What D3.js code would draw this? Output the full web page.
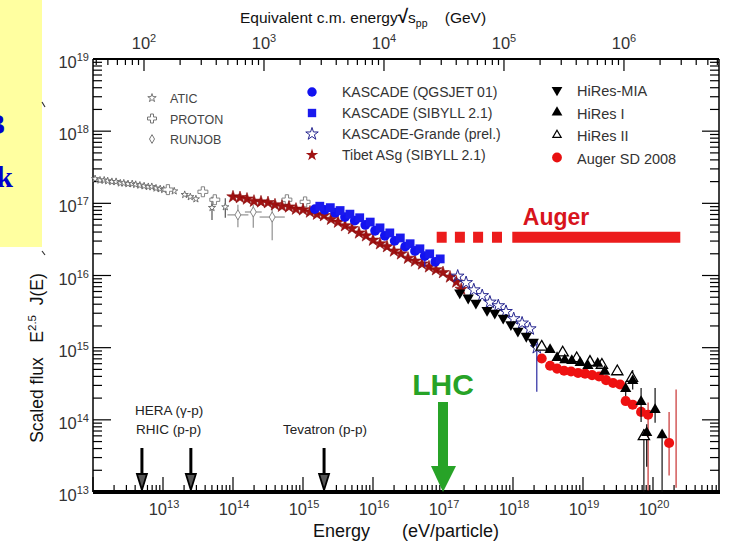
<!DOCTYPE html>
<html>
<head>
<meta charset="utf-8">
<script src="https://cdn.jsdelivr.net/npm/d3@7"></script>
<style>
body { margin: 0; background: #fff; }
text { font-family: Arial, "Liberation Sans", sans-serif; }
</style>
</head>
<body>
<script>
// values are log10 of energy (eV) and log10 of scaled flux E^2.5 J(E)
// optional 3rd/4th entries: error down / error up (log units)
var atic = [[12.03,17.34],[12.10,17.32],[12.16,17.32],[12.21,17.31],[12.27,17.30],[12.33,17.30],
  [12.39,17.28],[12.44,17.28],[12.50,17.27],[12.56,17.27],[12.61,17.26],[12.67,17.25],[12.73,17.24],
  [12.79,17.23],[12.84,17.23],[12.90,17.21],[12.96,17.20],[13.01,17.19],[13.16,17.17],[13.31,17.12],
  [13.39,17.09],[13.47,17.06],[13.70,16.94,0.17,0.15],[13.89,16.95,0.15,0.12]];
var proton = [[13.07,17.19],[13.57,17.16],[13.74,17.05],[14.77,17.05],[15.03,17.02]];
// 5th entry: horizontal error (log units)
var runjob = [[14.07,16.84,0.17,0.14,0.15],[14.29,16.88,0.22,0.10,0.12],[14.56,16.81,0.32,0.21,0.18]];

var tibetE = [14.0,14.1,14.2,14.3,14.4,14.5,14.6,14.7,14.8,14.9,15.0,15.1,15.2,15.3,15.4,15.5,15.6,
  15.7,15.8,15.9,16.0,16.1,16.2,16.3,16.4,16.5,16.6,16.7,16.8,16.9,17.0,17.1,17.19,17.26];
var tibetF = [17.09,17.08,17.06,17.03,17.02,17.01,16.98,16.96,16.95,16.92,16.91,16.88,16.85,16.83,
  16.78,16.74,16.69,16.65,16.59,16.55,16.49,16.44,16.40,16.34,16.30,16.24,16.20,16.16,16.12,16.08,
  16.04,15.98,15.91,15.81];

var kascadeQ = [[15.17,16.92],[15.31,16.91],[15.46,16.87],[15.60,16.81],[15.74,16.76],[15.89,16.70],
  [16.03,16.62],[16.17,16.55],[16.31,16.48],[16.46,16.40],[16.60,16.34],[16.74,16.27,0.15,0],[16.89,16.19]];
var kascadeS = [[15.24,16.96],[15.39,16.94],[15.53,16.90],[15.67,16.85],[15.81,16.80],[15.96,16.74],
  [16.10,16.66],[16.24,16.59],[16.39,16.52],[16.53,16.44],[16.67,16.37],[16.81,16.30],[16.96,16.23]];
var grande = [[17.21,15.99],[17.33,15.90],[17.44,15.80],[17.56,15.72],[17.67,15.63],[17.79,15.58],
  [17.90,15.50],[18.01,15.40],[18.13,15.34],[18.24,15.26],[18.34,15.00,0.61,0.05]];

var hiresMIA = [[17.24,15.76],[17.36,15.69],[17.47,15.62],[17.63,15.52],[17.74,15.48],[17.86,15.41],
  [17.97,15.32],[18.07,15.23],[18.19,15.16],[18.29,15.08]];
var hires1 = [[18.53,14.97],[18.63,14.86],[18.74,14.83],[18.84,14.82],[18.96,14.79],[19.07,14.75],
  [19.21,14.78],[19.31,14.67],[19.61,14.43,0.10,0.10],[19.71,14.54,0.12,0.15],[19.83,14.25,0.28,0.19],
  [20.03,14.14,0.18,0.30],[19.91,13.82,0.47,0.12],[20.13,13.79,0.80,0.04]];
var hires2 = [[18.41,15.01],[18.71,14.93],[18.91,14.85],[19.10,14.80],[19.27,14.76],[19.49,14.67],
  [19.70,14.58],[19.87,13.77,0.80,0.10]];
var auger = [[18.41,14.85],[18.53,14.75],[18.63,14.71],[18.73,14.68],[18.83,14.67],[18.93,14.65],
  [19.03,14.64],[19.13,14.62],[19.23,14.60],[19.33,14.55],[19.43,14.51],[19.53,14.49],[19.61,14.26],
  [19.71,14.21],[19.83,14.11],[19.93,14.07,1.05,0.17],[20.23,13.68,0.45,0.43]];
var augerLimit = [[20.33,13.06,14.42]];

// annotations
var augerDashStart = [16.91, 17.17, 17.43, 17.70];
var augerSolid = [17.99, 20.39];
var augerBarF = 16.53;
var lhcE = 1e17;
var colliderE = [5e12, 2.5e13, 2e15];

var W = 730, H = 541;
var svg = d3.select('body').append('svg').attr('width', W).attr('height', H);

var L = 93, R = 719, T = 59, B = 492;
var x = d3.scaleLog().domain([1e12, Math.pow(10, 20.943)]).range([L, R]);
var y = d3.scaleLog().domain([1e13, 1e19]).range([B, T]).clamp(true);
var xTop = d3.scaleLog().domain([Math.pow(10, 1.575), Math.pow(10, 6.792)]).range([L, R]);

var px = function(d) { return x(Math.pow(10, d[0])); };
var py = function(d) { return y(Math.pow(10, d[1])); };

// yellow box on the left (cut off slide text)
svg.append('rect').attr('x', 0).attr('y', 0).attr('width', 42).attr('height', 247).attr('fill', '#ffffa0');
svg.append('text').attr('x', 5).attr('y', 134).attr('text-anchor', 'end')
  .style('font-family', '"Liberation Serif", serif').attr('font-weight', 'bold').attr('font-size', 30)
  .attr('fill', '#0000cc').text('3');
svg.append('text').attr('x', 13).attr('y', 187).attr('text-anchor', 'end')
  .style('font-family', '"Liberation Serif", serif').attr('font-weight', 'bold').attr('font-size', 30)
  .attr('fill', '#0000cc').text('k');
svg.append('path').attr('d', 'M42,102L45,107M42,251L45,255').attr('stroke', '#333').attr('stroke-width', 1.2);

// frame
svg.append('line').attr('x1', L).attr('x2', L).attr('y1', T).attr('y2', B).attr('stroke', '#000').attr('stroke-width', 1.5);
svg.append('line').attr('x1', R).attr('x2', R).attr('y1', T).attr('y2', B).attr('stroke', '#000').attr('stroke-width', 1.5);
svg.append('line').attr('x1', L).attr('x2', R).attr('y1', T).attr('y2', T).attr('stroke', '#000').attr('stroke-width', 2);

var isMajor = function(t) { var l = Math.log10(t); return Math.abs(l - Math.round(l)) < 1e-6; };
var supLabel = function(sel, e) {
  sel.text('10');
  sel.append('tspan').attr('dy', -7).attr('font-size', 11).text(e);
};

// left and right ticks
var yt = y.ticks();
svg.append('g').selectAll('line').data(yt).enter().append('line')
  .attr('x1', L).attr('x2', function(t) { return L + (isMajor(t) ? 18 : 9); })
  .attr('y1', function(t) { return y(t); }).attr('y2', function(t) { return y(t); })
  .attr('stroke', '#000').attr('stroke-width', 1.2);
svg.append('g').selectAll('line').data(yt).enter().append('line')
  .attr('x1', R).attr('x2', function(t) { return R - (isMajor(t) ? 17 : 9); })
  .attr('y1', function(t) { return y(t); }).attr('y2', function(t) { return y(t); })
  .attr('stroke', '#000').attr('stroke-width', 1.2);
svg.append('g').selectAll('text').data(yt.filter(isMajor)).enter().append('text')
  .attr('x', 89).attr('y', function(t) { return y(t) + 9; })
  .attr('text-anchor', 'end').attr('font-size', 16.5).attr('fill', '#333')
  .each(function(t) { supLabel(d3.select(this), Math.round(Math.log10(t))); });

// bottom axis
var xt = x.ticks();
svg.append('g').selectAll('line').data(xt).enter().append('line')
  .attr('x1', function(t) { return x(t); }).attr('x2', function(t) { return x(t); })
  .attr('y1', B).attr('y2', function(t) { return B - (isMajor(t) ? 15 : 7); })
  .attr('stroke', '#000').attr('stroke-width', 1.2);
svg.append('line').attr('x1', L).attr('x2', R + 1).attr('y1', B).attr('y2', B).attr('stroke', '#000').attr('stroke-width', 4);
svg.append('g').selectAll('text').data(xt.filter(function(t) { return isMajor(t) && t > 1e12; })).enter().append('text')
  .attr('x', function(t) { return x(t) + 1; }).attr('y', 515)
  .attr('text-anchor', 'middle').attr('font-size', 16.5).attr('fill', '#333')
  .each(function(t) { supLabel(d3.select(this), Math.round(Math.log10(t))); });

// top axis (sqrt(s) in GeV)
var tt = xTop.ticks();
svg.append('g').selectAll('line').data(tt).enter().append('line')
  .attr('x1', function(t) { return xTop(t); }).attr('x2', function(t) { return xTop(t); })
  .attr('y1', T).attr('y2', function(t) { return T + (isMajor(t) ? 12 : 6); })
  .attr('stroke', '#000').attr('stroke-width', 1.2);
svg.append('g').selectAll('text').data(tt.filter(isMajor)).enter().append('text')
  .attr('x', function(t) { return xTop(t); }).attr('y', 49)
  .attr('text-anchor', 'middle').attr('font-size', 16.5).attr('fill', '#333')
  .each(function(t) { supLabel(d3.select(this), Math.round(Math.log10(t))); });

// axis titles
var ttl = svg.append('text').attr('x', 240).attr('y', 23).attr('font-size', 15.5).attr('fill', '#111');
ttl.append('tspan').text('Equivalent c.m. energy');
ttl.append('tspan').attr('font-weight', 'bold').attr('font-size', 19).text('\u221A');
ttl.append('tspan').text('s');
ttl.append('tspan').attr('dy', 4).attr('font-size', 10.5).text('pp');
ttl.append('tspan').attr('dy', -4).text('\u00a0\u00a0\u00a0\u00a0(GeV)');

var bl = svg.append('g').attr('font-size', 18).attr('fill', '#111');
bl.append('text').attr('x', 313).attr('y', 537).text('Energy');
bl.append('text').attr('x', 402).attr('y', 537).text('(eV/particle)');

var yl = svg.append('text').attr('transform', 'translate(43,358) rotate(-90)')
  .attr('text-anchor', 'middle').attr('font-size', 17.5).attr('fill', '#111');
yl.append('tspan').text('Scaled flux\u00a0\u00a0\u00a0E');
yl.append('tspan').attr('dy', -7).attr('font-size', 11.5).text('2.5');
yl.append('tspan').attr('dy', 7).text('\u00a0\u00a0J(E)');

// Auger range annotation
var augerRed = '#ec1c1c';
svg.append('g').selectAll('rect').data(augerDashStart).enter().append('rect')
  .attr('x', function(d) { return x(Math.pow(10, d)); }).attr('y', y(Math.pow(10, augerBarF)) - 5.5)
  .attr('width', 10).attr('height', 11).attr('fill', augerRed);
svg.append('rect').attr('x', x(Math.pow(10, augerSolid[0]))).attr('y', y(Math.pow(10, augerBarF)) - 5.5)
  .attr('width', x(Math.pow(10, augerSolid[1])) - x(Math.pow(10, augerSolid[0]))).attr('height', 11).attr('fill', augerRed);
svg.append('text').attr('x', 556).attr('y', 225).attr('text-anchor', 'middle')
  .attr('font-size', 23).attr('font-weight', 'bold').attr('fill', '#d8141c').text('Auger');

// error bars
var errBars = function(pts, color) {
  var g = svg.append('g').attr('stroke', color).attr('stroke-width', 1.2);
  g.selectAll('line').data(pts.filter(function(d) { return d.length > 2; })).enter().append('line')
    .attr('x1', px).attr('x2', px)
    .attr('y1', function(d) { return y(Math.pow(10, d[1] - d[2])); })
    .attr('y2', function(d) { return y(Math.pow(10, d[1] + d[3])); });
};

var drawPts = function(pts, type, size, fill, stroke, sw, rot) {
  svg.append('g').selectAll('path').data(pts).enter().append('path')
    .attr('d', d3.symbol().type(type).size(size))
    .attr('transform', function(d) { return 'translate(' + px(d) + ',' + py(d) + ')' + (rot ? ' rotate(' + rot + ')' : ''); })
    .attr('fill', fill).attr('stroke', stroke).attr('stroke-width', sw);
};

// grey low energy direct measurements
errBars(atic, '#555');
drawPts(atic, d3.symbolStar, 16, '#fff', '#666', 0.9);
drawPts(proton, d3.symbolCross, 55, '#fff', '#777', 0.9);
var rj = svg.append('g').attr('stroke', '#999').attr('stroke-width', 1.3);
rj.selectAll('.v').data(runjob).enter().append('line')
  .attr('x1', px).attr('x2', px)
  .attr('y1', function(d) { return y(Math.pow(10, d[1] - d[2])); })
  .attr('y2', function(d) { return y(Math.pow(10, d[1] + d[3])); });
rj.selectAll('.h').data(runjob).enter().append('line')
  .attr('y1', py).attr('y2', py)
  .attr('x1', function(d) { return x(Math.pow(10, d[0] - d[4])); })
  .attr('x2', function(d) { return x(Math.pow(10, d[0] + d[4])); });
drawPts(runjob, d3.symbolDiamond, 30, '#fff', '#888', 1);

// Tibet and KASCADE
var tibet = tibetE.map(function(e, i) { return [e, tibetF[i]]; });
drawPts(tibet, d3.symbolStar, 48, '#a01212', '#8a0a0a', 0.6);
errBars(kascadeQ, '#2020d0');
drawPts(kascadeQ, d3.symbolCircle, 75, '#1212f0', 'none', 0);
drawPts(kascadeS, d3.symbolSquare, 78, '#1a1aee', 'none', 0);

// Auger SD and HiRes
errBars(auger, '#c83030');
svg.append('g').attr('stroke', '#c83030').attr('stroke-width', 1.2).selectAll('line').data(augerLimit).enter().append('line')
  .attr('x1', function(d) { return x(Math.pow(10, d[0])); }).attr('x2', function(d) { return x(Math.pow(10, d[0])); })
  .attr('y1', function(d) { return y(Math.pow(10, d[1])); }).attr('y2', function(d) { return y(Math.pow(10, d[2])); });
drawPts(auger, d3.symbolCircle, 80, '#ee1111', 'none', 0);
errBars(grande, '#2a2aa0');
drawPts(grande, d3.symbolStar, 50, 'none', '#25258f', 1);
drawPts(hiresMIA, d3.symbolTriangle, 55, '#000', 'none', 0, 180);
errBars(hires1, '#111');
errBars(hires2, '#111');
drawPts(hires2, d3.symbolTriangle, 55, '#fff', '#000', 1.3);
drawPts(hires1, d3.symbolTriangle, 55, '#000', 'none', 0);

// collider arrows
var arrow = svg.append('g');
arrow.selectAll('line').data(colliderE).enter().append('line')
  .attr('x1', function(d) { return x(d); }).attr('x2', function(d) { return x(d); })
  .attr('y1', 448).attr('y2', 476).attr('stroke', '#000').attr('stroke-width', 3);
arrow.selectAll('path').data(colliderE).enter().append('path')
  .attr('d', function(d) { var c = x(d); return 'M' + (c - 5) + ',474L' + (c + 5) + ',474L' + c + ',490Z'; })
  .attr('fill', '#555').attr('stroke', '#000').attr('stroke-width', 1.8);
var cl = svg.append('g').attr('font-size', 13.5).attr('fill', '#222');
cl.append('text').attr('x', 135).attr('y', 415).text('HERA (\u03B3-p)');
cl.append('text').attr('x', 136).attr('y', 434).text('RHIC (p-p)');
cl.append('text').attr('x', 325).attr('y', 434).attr('text-anchor', 'middle').text('Tevatron (p-p)');

// LHC arrow
var lx = x(lhcE), green = '#27a327';
svg.append('rect').attr('x', lx - 5).attr('y', 402).attr('width', 10).attr('height', 70).attr('fill', green);
svg.append('path').attr('d', 'M' + (lx - 12) + ',466L' + (lx + 13) + ',466L' + lx + ',492Z').attr('fill', green);
svg.append('text').attr('x', lx).attr('y', 395).attr('text-anchor', 'middle')
  .attr('font-size', 30).attr('font-weight', 'bold').attr('fill', green).text('LHC');

// legends
var leg1 = ['ATIC', 'PROTON', 'RUNJOB'];
var leg1Sym = [d3.symbolStar, d3.symbolCross, d3.symbolDiamond];
var g1 = svg.append('g');
leg1.forEach(function(name, i) {
  var yy = 98 + i * 20.5;
  g1.append('path').attr('d', d3.symbol().type(leg1Sym[i]).size(i == 1 ? 45 : 22)())
    .attr('transform', 'translate(152,' + yy + ')').attr('fill', '#fff').attr('stroke', '#777').attr('stroke-width', 1);
  g1.append('text').attr('x', 170).attr('y', yy + 5).attr('font-size', 12.5).attr('fill', '#444').text(name);
});

var leg2 = ['KASCADE (QGSJET 01)', 'KASCADE (SIBYLL 2.1)', 'KASCADE-Grande (prel.)', 'Tibet ASg (SIBYLL 2.1)'];
var leg2Sym = [d3.symbolCircle, d3.symbolSquare, d3.symbolStar, d3.symbolStar];
var leg2Fill = ['#1212f0', '#1a1aee', '#fff', '#a01212'];
var leg2Stroke = ['none', 'none', '#25258f', 'none'];
var g2 = svg.append('g');
leg2.forEach(function(name, i) {
  var yy = 92 + i * 21;
  g2.append('path').attr('d', d3.symbol().type(leg2Sym[i]).size(i < 2 ? 70 : 48)())
    .attr('transform', 'translate(312,' + yy + ')').attr('fill', leg2Fill[i]).attr('stroke', leg2Stroke[i]).attr('stroke-width', 1);
  g2.append('text').attr('x', 342).attr('y', yy + 5).attr('font-size', 14).attr('fill', '#333').text(name);
});

var leg3 = ['HiRes-MIA', 'HiRes I', 'HiRes II', 'Auger SD 2008'];
var g3 = svg.append('g');
leg3.forEach(function(name, i) {
  var yy = 90 + i * 22.5;
  var p = g3.append('path').attr('transform', 'translate(557,' + yy + ')' + (i == 0 ? ' rotate(180)' : ''));
  if (i < 3) p.attr('d', d3.symbol().type(d3.symbolTriangle).size(i == 2 ? 30 : 50)())
    .attr('fill', i == 2 ? '#fff' : '#000').attr('stroke', i == 2 ? '#000' : 'none').attr('stroke-width', 1.2);
  else p.attr('d', d3.symbol().type(d3.symbolCircle).size(75)()).attr('fill', '#e81010');
  g3.append('text').attr('x', 577).attr('y', yy + 6).attr('font-size', 14.5).attr('fill', '#333').text(name);
});
</script>
</body>
</html>
